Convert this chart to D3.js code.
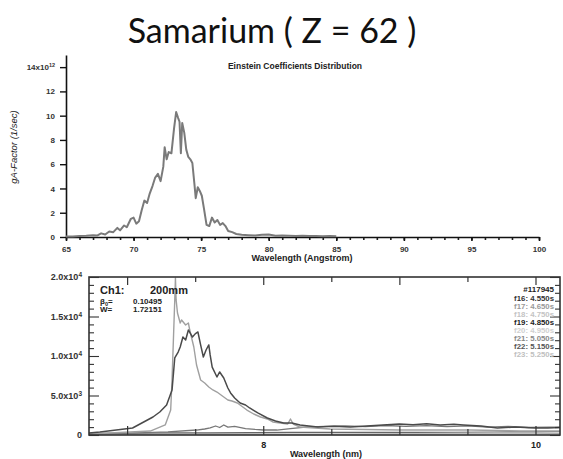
<!DOCTYPE html>
<html>
<head>
<meta charset="utf-8">
<script src="https://cdn.jsdelivr.net/npm/d3@7"></script>
<style>
  body { margin: 0; background: #fff; }
  svg { display: block; }
  text { font-family: "Liberation Sans", Arial, sans-serif; font-weight: bold; fill: #222; }
</style>
</head>
<body>
<script>
const w = 563;
const h = 459;

// ---- top chart data (Einstein coefficients) ----
const topWave = [65.0, 65.5, 66.0, 66.5, 67.0, 67.3, 67.6, 67.9, 68.2, 68.5, 68.8, 69.0, 69.3, 69.5, 69.8,
  70.0, 70.2, 70.4, 70.6, 70.8, 71.0, 71.2, 71.4, 71.6, 71.8, 72.0, 72.2, 72.3, 72.45, 72.6, 72.8,
  73.0, 73.15, 73.3, 73.4, 73.5, 73.6, 73.75, 73.9, 74.05, 74.2, 74.35, 74.5, 74.6, 74.75, 74.9,
  75.05, 75.2, 75.4, 75.6, 75.8, 76.0, 76.2, 76.4, 76.6, 76.8, 77.0, 77.3, 77.6, 78.0, 78.5, 79.0,
  79.5, 80.0, 80.5, 81.0, 81.5, 82.0, 82.5, 83.0, 83.5, 84.0, 84.5, 85.0];
const topGA = [0.05, 0.05, 0.08, 0.1, 0.15, 0.12, 0.3, 0.2, 0.45, 0.4, 0.75, 0.55, 0.95, 0.8, 1.5,
  1.6, 1.1, 1.3, 2.2, 3.0, 2.8, 3.6, 4.2, 4.9, 5.2, 4.6, 5.8, 7.4, 6.4, 7.0, 6.9,
  9.0, 10.3, 9.8, 9.5, 6.9, 9.4, 8.6, 7.2, 6.6, 6.4, 6.1, 4.4, 3.2, 4.1, 3.8,
  3.4, 2.4, 1.0, 0.9, 1.6, 1.2, 1.4, 1.0, 1.15, 0.9, 0.5, 0.4, 0.25, 0.18, 0.15, 0.12,
  0.18, 0.2, 0.1, 0.12, 0.1, 0.08, 0.1, 0.08, 0.09, 0.07, 0.08, 0.06];
const topYTicks = [0, 2, 4, 6, 8, 10, 12, 14];

// ---- bottom chart data (measured spectra) ----
const specAWave = [6.72, 6.80, 7.04, 7.19, 7.24, 7.29, 7.33, 7.35, 7.375, 7.39, 7.41, 7.43, 7.45, 7.48, 7.50,
  7.52, 7.54, 7.56, 7.58, 7.60, 7.61, 7.625, 7.66, 7.68, 7.71, 7.74, 7.76, 7.79, 7.83, 7.87, 7.90,
  7.96, 8.03, 8.09, 8.15, 8.21, 8.27, 8.40, 8.52, 8.64, 8.76, 8.88, 9.0, 9.10, 9.20, 9.30, 9.40,
  9.47, 9.60, 9.72, 9.85, 10.0, 10.09, 10.18];
const specAVal = [250, 380, 890, 2280, 2910, 3800, 5700, 9750, 10500, 11140, 12400, 12030, 13300, 12400, 12800,
  13040, 11400, 9870, 10760, 11400, 10130, 8600, 7340, 7980, 7220, 5950, 5320, 4680, 4050, 3800, 3420,
  2790, 2150, 1770, 1520, 1520, 1270, 1010, 1100, 1010, 1150, 1270, 1390, 1300, 1420, 1270, 1350,
  1270, 1150, 890, 1000, 900, 890, 950];

const specBWave = [6.72, 7.17, 7.28, 7.32, 7.33, 7.35, 7.355, 7.36, 7.37, 7.39, 7.40, 7.43, 7.45, 7.46, 7.49,
  7.51, 7.54, 7.57, 7.60, 7.63, 7.66, 7.70, 7.74, 7.77, 7.81, 7.85, 7.88, 7.93, 7.98, 8.03, 8.07,
  8.125, 8.18, 8.20, 8.22, 8.27, 8.49, 9.0, 9.52, 9.89, 10.18];
const specBVal = [130, 500, 1270, 3160, 6960, 17100, 19880, 17100, 15440, 14180, 14560, 13930, 14180, 13290, 11140,
  8860, 6960, 6580, 6080, 5700, 5440, 4940, 4430, 4300, 4050, 3540, 3160, 2660, 2280, 2030, 1650,
  1520, 1390, 2030, 1390, 1010, 760, 630, 630, 510, 500];

const specCWave = [6.72, 7.02, 7.30, 7.51, 7.57, 7.61, 7.65, 7.68, 7.71, 7.74, 7.79, 7.87, 7.94, 8.0, 8.1,
  8.2, 8.31, 8.45, 8.6, 8.75, 8.9, 9.05, 9.2, 9.35, 9.5, 9.65, 9.8, 9.95, 10.1, 10.18];
const specCVal = [130, 250, 400, 630, 760, 890, 1140, 950, 1270, 1000, 1100, 820, 700, 630, 630,
  800, 1000, 1080, 1150, 1050, 1200, 1100, 1180, 1050, 1150, 1000, 1080, 950, 1000, 980];

const specDWave = [6.72, 7.0, 7.3, 7.6, 7.9, 8.2, 8.5, 8.8, 9.1, 9.4, 9.7, 10.0, 10.18];
const specDVal = [200, 220, 260, 280, 300, 330, 320, 340, 330, 350, 380, 400, 420];

const specEWave = [6.72, 7.0, 7.5, 8.0, 8.5, 9.0, 9.5, 10.0, 10.18];
const specEVal = [60, 80, 100, 120, 120, 140, 150, 160, 170];

const botYTicks = [0, 5000, 10000, 15000, 20000];
const botYLabels = [["0", ""], ["5.0x10", "3"], ["1.0x10", "4"], ["1.5x10", "4"], ["2.0x10", "4"]];
const shotLabels = ["f16: 4.550s", "f17: 4.650s", "f18: 4.750s", "f19: 4.850s",
  "f20: 4.950s", "f21: 5.050s", "f22: 5.150s", "f23: 5.250s"];
const shotColors = ["#333", "#999", "#c4c4c4", "#222", "#d0d0d0", "#888", "#555", "#c0c0c0"];

const svg = d3.select("body").append("svg").attr("width", w).attr("height", h);

// main title
svg.append("text")
  .attr("x", 272).attr("y", 43)
  .attr("text-anchor", "middle")
  .style("font-family", "Lato, 'Open Sans', sans-serif")
  .style("font-weight", "normal")
  .style("font-size", "34px")
  .style("fill", "#111")
  .text("Samarium ( Z = 62 )");

// ================= top chart =================
const xTop = d3.scaleLinear().domain([65, 100]).range([66, 539]);
const yTop = d3.scaleLinear().domain([0, 15]).range([237, 55]);

svg.append("text")
  .attr("x", 295).attr("y", 69)
  .attr("text-anchor", "middle")
  .style("font-size", "8.5px")
  .text("Einstein Coefficients Distribution");

// minor x ticks
svg.append("g")
  .attr("transform", "translate(0,237)")
  .call(d3.axisBottom(xTop).tickValues(d3.range(65, 101, 1)).tickSize(3).tickFormat(""))
  .call(g => g.select(".domain").remove())
  .call(g => g.selectAll("line").attr("stroke", "#222").attr("stroke-width", 1.6));

svg.append("g")
  .attr("transform", "translate(0,237)")
  .call(d3.axisBottom(xTop).tickValues(d3.range(65, 101, 5)).tickSize(4).tickSizeOuter(0).tickPadding(5))
  .call(g => g.select(".domain").attr("stroke", "#111").attr("stroke-width", 1.6))
  .call(g => g.selectAll("line").attr("stroke", "#111").attr("stroke-width", 1.6))
  .call(g => g.selectAll("text").style("font-size", "8px").style("fill", "#333"));

svg.append("g")
  .attr("transform", "translate(66,0)")
  .call(d3.axisLeft(yTop).tickValues(topYTicks).tickSize(6).tickSizeOuter(0).tickPadding(5)
    .tickFormat(d => d === 14 ? "14x10" : d))
  .call(g => g.select(".domain").attr("stroke", "#111").attr("stroke-width", 1.6))
  .call(g => g.selectAll("line").attr("stroke", "#111").attr("stroke-width", 1.4))
  .call(g => g.selectAll("text").style("font-size", "8px").style("fill", "#333"))
  .call(g => g.selectAll("text").filter(d => d === 14)
    .append("tspan").attr("dy", "-0.5em").style("font-size", "5.5px").text("12"));

svg.append("text")
  .attr("transform", "translate(17,147) rotate(-90)")
  .attr("text-anchor", "middle")
  .style("font-size", "9.5px")
  .style("font-style", "italic")
  .style("font-weight", "normal")
  .style("font-family", "'Liberation Sans Narrow', 'Liberation Sans', sans-serif")
  .text("gA-Factor (1/sec)");

svg.append("text")
  .attr("x", 302).attr("y", 261)
  .attr("text-anchor", "middle")
  .style("font-size", "9px")
  .text("Wavelength (Angstrom)");

const topLine = d3.line()
  .x((d, i) => xTop(topWave[i]))
  .y(d => yTop(d));

svg.append("path")
  .datum(topGA)
  .attr("d", topLine)
  .attr("fill", "none")
  .attr("stroke", "#7a7a7a")
  .attr("stroke-width", 2)
  .attr("stroke-linejoin", "round");

// ================= bottom chart =================
const xBot = d3.scaleLinear().domain([6.72, 10.18]).range([89, 560]);
const yBot = d3.scaleLinear().domain([0, 20000]).range([435, 277]);

const specs = [
  { wave: specEWave, val: specEVal, color: "#aaa", width: 1.2 },
  { wave: specDWave, val: specDVal, color: "#666", width: 1.2 },
  { wave: specCWave, val: specCVal, color: "#777", width: 1.3 },
  { wave: specBWave, val: specBVal, color: "#a0a0a0", width: 1.4 },
  { wave: specAWave, val: specAVal, color: "#4a4a4a", width: 1.5 }
];

specs.forEach(s => {
  svg.append("path")
    .datum(s.val)
    .attr("d", d3.line().x((d, i) => xBot(s.wave[i])).y(d => yBot(d)))
    .attr("fill", "none")
    .attr("stroke", s.color)
    .attr("stroke-width", s.width)
    .attr("stroke-linejoin", "round");
});

// frame
svg.append("rect")
  .attr("x", 89).attr("y", 277).attr("width", 471).attr("height", 158)
  .attr("fill", "none").attr("stroke", "#333").attr("stroke-width", 1.6);

// x axis bottom (ticks inside)
svg.append("g")
  .attr("transform", "translate(0,435)")
  .call(d3.axisTop(xBot).tickValues([7, 7.5, 8, 8.5, 9, 9.5, 10]).tickSize(0).tickFormat(""))
  .call(g => g.select(".domain").remove())
  .call(g => g.selectAll("line").attr("y2", d => Number.isInteger(d) ? -9 : -6)
    .attr("stroke", "#333").attr("stroke-width", 1.2));

svg.append("g")
  .attr("transform", "translate(0,435)")
  .call(d3.axisBottom(xBot).tickValues([8, 10]).tickSize(0).tickPadding(7).tickFormat(d3.format("d")))
  .call(g => g.select(".domain").remove())
  .call(g => g.selectAll("text").style("font-size", "9px").style("fill", "#222"));

// top axis ticks
svg.append("g")
  .attr("transform", "translate(0,277)")
  .call(d3.axisBottom(xBot).tickValues([7, 7.5, 8, 8.5, 9, 9.5, 10]).tickSize(0).tickFormat(""))
  .call(g => g.select(".domain").remove())
  .call(g => g.selectAll("line").attr("y2", d => Number.isInteger(d) ? 8 : 5)
    .attr("stroke", "#333").attr("stroke-width", 1.2));

// left and right y ticks
const yMinor = d3.range(0, 20001, 1000);
[[89, 1], [560, -1]].forEach(([x0, dir]) => {
  svg.append("g")
    .attr("transform", "translate(" + x0 + ",0)")
    .call(d3.axisRight(yBot).tickValues(yMinor).tickSize(0).tickFormat(""))
    .call(g => g.select(".domain").remove())
    .call(g => g.selectAll("line").attr("x2", d => dir * (d % 5000 === 0 ? 10 : 5))
      .attr("stroke", "#333").attr("stroke-width", 1.1));
});

svg.append("g")
  .attr("transform", "translate(89,0)")
  .call(d3.axisLeft(yBot).tickValues(botYTicks).tickSize(0).tickPadding(7)
    .tickFormat((d, i) => botYLabels[i][0]))
  .call(g => g.select(".domain").remove())
  .call(g => g.selectAll("text").style("font-size", "9px").style("fill", "#333"))
  .call(g => g.selectAll("text").filter((d, i) => botYLabels[i][1] !== "")
    .append("tspan").attr("dy", "-0.5em").style("font-size", "6.5px").text(d => botYLabels[botYTicks.indexOf(d)][1]));

svg.append("text")
  .attr("x", 326).attr("y", 457)
  .attr("text-anchor", "middle")
  .style("font-size", "9px")
  .text("Wavelength (nm)");

// annotations inside the frame
svg.append("text").attr("x", 100).attr("y", 294).style("font-size", "11px").text("Ch1:");
svg.append("text").attr("x", 150).attr("y", 294).style("font-size", "11px").text("200mm");
const beta = svg.append("text").attr("x", 100).attr("y", 304).style("font-size", "8px");
beta.append("tspan").text("\u03b2");
beta.append("tspan").attr("dy", 1.5).style("font-size", "5.5px").text("0");
beta.append("tspan").attr("dy", -1.5).text("=");
svg.append("text").attr("x", 133).attr("y", 304).style("font-size", "8px").text("0.10495");
svg.append("text").attr("x", 100).attr("y", 312).style("font-size", "8px").text("W=");
svg.append("text").attr("x", 133).attr("y", 312).style("font-size", "8px").text("1.72151");

svg.append("text").attr("x", 554).attr("y", 292).attr("text-anchor", "end")
  .style("font-size", "8px").text("#117945");

svg.selectAll(".shot")
  .data(shotLabels)
  .enter()
  .append("text")
  .attr("class", "shot")
  .attr("x", 554)
  .attr("y", (d, i) => 301 + i * 8)
  .attr("text-anchor", "end")
  .style("font-size", "7.8px")
  .style("fill", (d, i) => shotColors[i])
  .text(d => d);
</script>
</body>
</html>
